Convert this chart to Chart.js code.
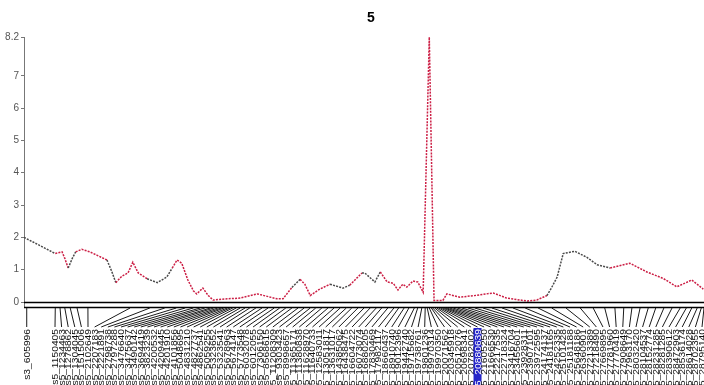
<!DOCTYPE html>
<html>
<head>
<meta charset="utf-8">
<script src="https://cdn.jsdelivr.net/npm/chart.js@4/dist/chart.umd.min.js"></script>
<style>
  html, body { margin: 0; padding: 0; background: #fff; }
  #wrap { width: 704px; height: 385px; }
</style>
</head>
<body>
<div id="wrap"><canvas id="c" width="704" height="385"></canvas></div>
<script>
// Linkage group 5: LOD profile along the map (cM) with the marker panel underneath.
const chartTitle = '5';

const lodPos = [
  0, 2.4, 4.6, 5.6, 6.0, 6.5, 7.1, 7.6, 8.5, 9.7, 10.7, 12.2, 12.9, 13.5, 14.4, 15.3,
  16.0, 16.8, 18.1, 19.6, 21.0, 21.8, 22.5, 23.2, 24.1, 24.9, 25.4, 26.3, 27.1, 27.8,
  29.9, 31.8, 34.3, 37.2, 38.1, 39.4, 40.6, 41.3, 42.1, 43.5, 45.0, 46.9, 47.9, 49.7,
  50.1, 51.6, 52.4, 53.4, 54.3, 55.0, 55.7, 56.3, 57.2, 57.9, 58.7, 59.6, 60.3, 61.6,
  62.2, 64.1, 66.3, 69.0, 71.0, 74.0, 75.4, 76.9, 77.6, 78.4, 79.3, 81.0, 82.8, 84.3,
  86.2, 89.1, 91.6, 94.0, 96.0, 98.2, 99.9
];
const lodValues = [
  2.0, 1.74, 1.5, 1.55, 1.35, 1.05, 1.35, 1.55, 1.63, 1.55, 1.45, 1.3, 0.95, 0.6, 0.8, 0.9,
  1.23, 0.9, 0.72, 0.6, 0.77, 1.05, 1.3, 1.2, 0.68, 0.35, 0.25, 0.43, 0.2, 0.06,
  0.1, 0.12, 0.25, 0.1, 0.1, 0.45, 0.7, 0.55, 0.2, 0.4, 0.55, 0.43, 0.52, 0.9,
  0.9, 0.62, 0.93, 0.62, 0.58, 0.37, 0.55, 0.46, 0.65, 0.62, 0.3, 8.2, 0.05, 0.05,
  0.25, 0.15, 0.2, 0.28, 0.12, 0.03, 0.06, 0.2, 0.45, 0.77, 1.5, 1.57, 1.38, 1.15,
  1.05, 1.2, 0.93, 0.73, 0.47, 0.68, 0.4
];

const yTicks = [0, 1, 2, 3, 4, 5, 6, 7, 8.2];

const markerNames = [
  's3_605996', 's5_1150405', 's5_1234463', 's5_1278862', 's5_1304045', 's5_1515006',
  's5_2102649', 's5_2207183', 's5_2221891', 's5_2798738', 's5_2797288', 's5_3476640',
  's5_3475637', 's5_3490142', 's5_3694419', 's5_3823239', 's5_4200532', 's5_4209445',
  's5_4201910', 's5_4101856', 's5_5048695', 's5_4831210', 's5_4827737', 's5_4862541',
  's5_5059255', 's5_5323652', 's5_5323541', 's5_5678963', 's5_5674147', 's5_5773548',
  's5_6032078', 's5_6012055', 's5_7306150', 's5_8568615', 's5_11208309', 's5_9303423',
  's5_8998657', 's5_11365171', 's5_11380838', 's5_11628970', 's5_11640733', 's5_12583011',
  's5_13051817', 's5_13631017', 's5_14385062', 's5_16438475', 's5_16604722', 's5_16073074',
  's5_16880205', 's5_17830469', 's5_17982117', 's5_18660437', 's5_18910740', 's5_19012396',
  's5_19442740', 's5_19715682', 's5_19738761', 's5_19801236', 's5_19970314', 's5_19970350',
  's5_20071562', 's5_20345918', 's5_20512076', 's5_20698341', 's5_20782002', 's5_20880639',
  's5_21605250', 's5_21666530', 's5_22217535', 's5_22718324', 's5_23416704', 's5_23455601',
  's5_23928311', 's5_23907101', 's5_23972595', 's5_24174137', 's5_24181165', 's5_24252335',
  's5_25101428', 's5_25181188', 's5_25648186', 's5_26360901', 's5_27213389', 's5_27218490',
  's5_27669895', 's5_27781960', 's5_27770419', 's5_27908649', 's5_27963170', 's5_28032420',
  's5_28104537', 's5_28152774', 's5_28231285', 's5_28281285', 's5_28390612', 's5_28472903',
  's5_28536174', 's5_28614028', 's5_28702355', 's5_28795140'
];
const markerPos = [
  0.4, 4.6, 5.3, 6.0, 6.8, 7.8, 9.4, 15.6, 18.5, 20.7, 22.4, 23.7, 24.9, 25.9, 26.6, 27.4,
  27.9, 28.5, 29.0, 29.4, 29.9, 30.3, 30.7, 31.2, 31.8, 32.5, 33.2, 34.1, 35.0, 35.9,
  36.8, 37.6, 38.5, 39.4, 40.3, 41.2, 42.1, 42.9, 43.8, 44.7, 45.6, 46.5, 47.4, 48.2,
  49.1, 50.0, 50.9, 51.8, 52.6, 53.5, 54.4, 55.1, 55.9, 56.6, 57.4, 57.9, 58.5, 59.0,
  59.3, 59.6, 59.9, 60.1, 60.4, 60.7, 61.0, 61.3, 61.6, 61.9, 62.2, 62.6, 63.1, 63.7,
  64.4, 65.3, 66.3, 67.5, 68.8, 70.3, 71.9, 73.7, 75.6, 77.6, 79.7, 81.8, 83.7, 85.4,
  86.9, 88.2, 89.4, 90.6, 91.8, 92.9, 94.1, 95.3, 96.5, 97.4, 98.2, 99.0, 99.6, 100.0
];
const highlightedMarker = 's5_20880639';

// stretches of the profile drawn in the darker ink
const darkSpans = [[0, 3.8], [6.5, 7.5], [11.2, 13.4], [17.0, 21.8], [38.4, 40.6],
                   [45.0, 47.2], [48.7, 52.4], [76.6, 84.7]];
const RED = '#cc1f45';
const DARK = '#4a4a4a';
const inDark = v => darkSpans.some(([a, b]) => v >= a && v < b);

const markerPanel = {
  id: 'markerPanel',
  afterDraw(chart) {
    const { ctx, chartArea: area, scales: { x, y } } = chart;
    const y0 = y.getPixelForValue(0);
    const barY = y0 + 5;
    const leaderEnd = y0 + 25;
    const textTop = y0 + 27;
    ctx.save();

    // axis extension, zero line and marker bar
    ctx.strokeStyle = '#777';
    ctx.lineWidth = 1;
    ctx.beginPath();
    ctx.moveTo(area.left + 0.5, y0);
    ctx.lineTo(area.left + 0.5, barY);
    ctx.stroke();
    ctx.strokeStyle = '#000';
    ctx.lineWidth = 1.3;
    ctx.beginPath();
    ctx.moveTo(area.left, y0 + 0.5);
    ctx.lineTo(area.right, y0 + 0.5);
    ctx.moveTo(area.left, barY + 0.5);
    ctx.lineTo(area.right, barY + 0.5);
    ctx.stroke();

    // label slots: first marker sits under its own position, the rest are spread evenly
    const n = markerNames.length;
    const slots = [];
    const first = 55, last = 702;
    const step = (last - first) / (n - 2);
    for (let i = 0; i < n; i++) {
      slots.push(i === 0 ? x.getPixelForValue(markerPos[0]) : first + (i - 1) * step);
    }

    ctx.strokeStyle = '#1a1a1a';
    ctx.lineWidth = 1;
    ctx.beginPath();
    for (let i = 0; i < n; i++) {
      const top = x.getPixelForValue(markerPos[i]);
      ctx.moveTo(top, barY + 1);
      ctx.lineTo(slots[i], leaderEnd);
    }
    ctx.stroke();

    ctx.font = '9px "Liberation Sans", Arial, sans-serif';
    ctx.textBaseline = 'middle';
    ctx.textAlign = 'right';
    for (let i = 0; i < n; i++) {
      const sx = slots[i];
      if (markerNames[i] === highlightedMarker) {
        ctx.fillStyle = '#2626c9';
        ctx.fillRect(sx - 4, textTop - 1, 8, chart.height - textTop + 1);
      }
      ctx.save();
      ctx.translate(sx, textTop);
      ctx.rotate(-Math.PI / 2);
      ctx.scale(1.14, 1);
      ctx.fillStyle = markerNames[i] === highlightedMarker ? '#fff' : '#111';
      ctx.fillText(markerNames[i], 0, 0.5);
      ctx.restore();
    }

    // linkage-group heading
    ctx.fillStyle = '#000';
    ctx.font = 'bold 14px "Liberation Sans", Arial, sans-serif';
    ctx.textAlign = 'center';
    ctx.textBaseline = 'middle';
    ctx.fillText(chartTitle, 371, 18);
    ctx.restore();
  }
};

new Chart(document.getElementById('c'), {
  type: 'line',
  data: {
    datasets: [{
      data: lodPos.map((p, i) => ({ x: p, y: lodValues[i] })),
      borderColor: RED,
      borderWidth: 1.5,
      borderDash: [2, 1.2],
      pointRadius: 0,
      tension: 0,
      segment: {
        borderColor: c => inDark(c.p0.parsed.x) ? DARK : RED
      }
    }]
  },
  options: {
    responsive: false,
    animation: false,
    events: [],
    layout: { padding: { top: 37, bottom: 83, left: 0, right: 0 } },
    plugins: { legend: { display: false }, title: { display: false }, tooltip: { enabled: false } },
    scales: {
      x: { type: 'linear', min: 0, max: 100, display: false },
      y: {
        min: 0, max: 8.2,
        afterBuildTicks: s => { s.ticks = yTicks.map(v => ({ value: v })); },
        afterFit: s => { s.width = 24; },
        ticks: {
          color: '#555',
          padding: 2,
          font: { family: '"Liberation Sans", Arial, sans-serif', size: 10 },
          callback: v => String(v)
        },
        grid: { drawOnChartArea: false, drawTicks: true, tickLength: 3, color: '#777' },
        border: { color: '#777', width: 1 }
      }
    }
  },
  plugins: [markerPanel]
});
</script>
</body>
</html>
